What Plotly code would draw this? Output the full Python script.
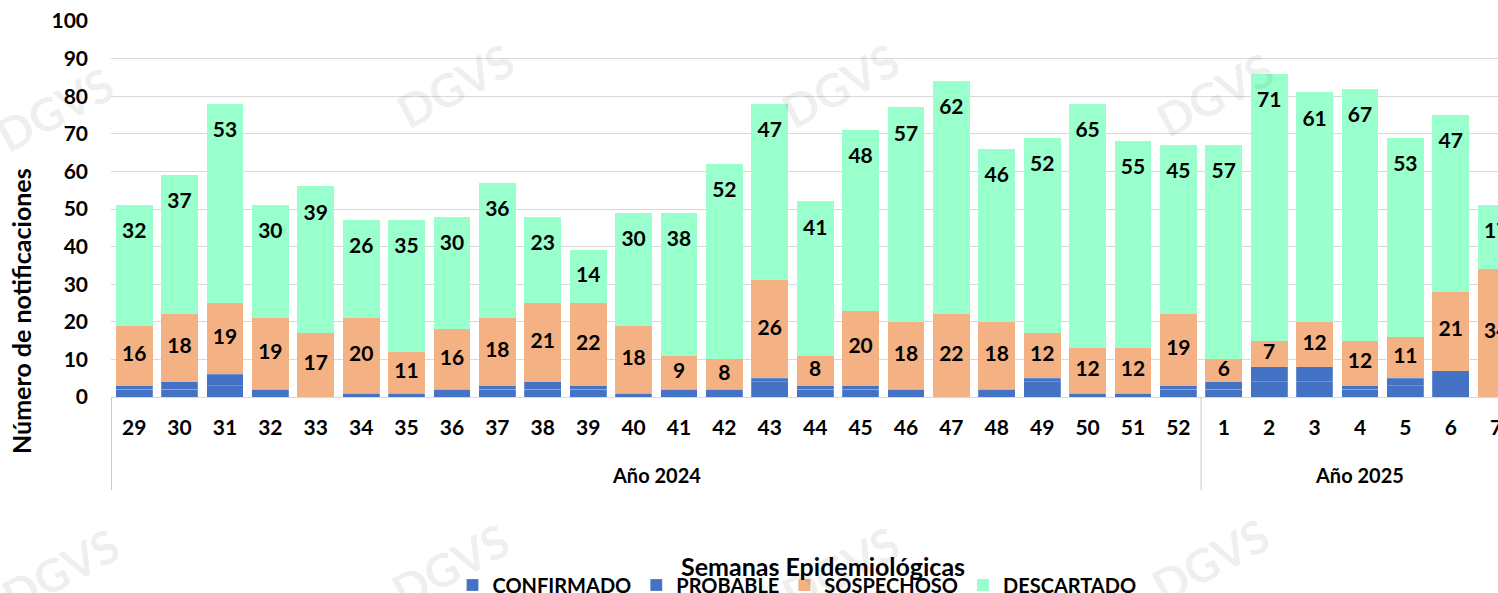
import plotly.graph_objects as go

# ---------------- data ----------------
years = ["Año 2024", "Año 2025"]
weeks_2024 = [str(w) for w in range(29, 53)]
weeks_2025 = [str(w) for w in range(1, 8)]
weeks = weeks_2024 + weeks_2025

confirmado = [2, 2, 3, 2, 0, 1, 1, 2, 2, 2, 2, 1, 2, 2, 4, 2, 2, 2, 0, 2, 4, 1, 1, 2,
              2, 4, 4, 2, 3, 7, 0]
probable = [1, 2, 3, 0, 0, 0, 0, 0, 1, 2, 1, 0, 0, 0, 1, 1, 1, 0, 0, 0, 1, 0, 0, 1,
            2, 4, 4, 1, 2, 0, 0]
sospechoso = [16, 18, 19, 19, 17, 20, 11, 16, 18, 21, 22, 18, 9, 8, 26, 8, 20, 18, 22, 18, 12, 12, 12, 19,
              6, 7, 12, 12, 11, 21, 34]
descartado = [32, 37, 53, 30, 39, 26, 35, 30, 36, 23, 14, 30, 38, 52, 47, 41, 48, 57, 62, 46, 52, 65, 55, 45,
              57, 71, 61, 67, 53, 47, 17]

# ---------------- styling ----------------
FONT = "Lato"
BLUE = "#4472C4"
ORANGE = "#F4B183"
MINT = "#99FFCC"

idx = list(range(len(weeks)))
groups = [(years[0], 0, len(weeks_2024) - 1), (years[1], len(weeks_2024), len(weeks) - 1)]

fig = go.Figure()
blue_line = dict(width=0.6, color="rgba(255,255,255,0.35)")
fig.add_trace(go.Bar(name="CONFIRMADO", x=idx, y=confirmado, marker=dict(color=BLUE, line=blue_line)))
fig.add_trace(go.Bar(name="PROBABLE", x=idx, y=probable, marker=dict(color=BLUE, line=blue_line)))
fig.add_trace(go.Bar(name="SOSPECHOSO", x=idx, y=sospechoso, marker=dict(color=ORANGE, line=dict(width=0))))
fig.add_trace(go.Bar(name="DESCARTADO", x=idx, y=descartado, marker=dict(color=MINT, line=dict(width=0))))

# data label positions derived from the stacked values
blue_tot = [c + p for c, p in zip(confirmado, probable)]
sosp_top = [b + s for b, s in zip(blue_tot, sospechoso)]
totals = [t + d for t, d in zip(sosp_top, descartado)]
sosp_y = [b + s / 2 for b, s in zip(blue_tot, sospechoso)]
desc_y = [max(t - 7.4, (st + t) / 2) for st, t in zip(sosp_top, totals)]

lab_font = dict(family=FONT, size=21, color="black", weight="bold")
fig.add_trace(go.Scatter(x=idx, y=sosp_y, mode="text", text=[str(v) for v in sospechoso],
                         textfont=lab_font, showlegend=False, hoverinfo="skip"))
fig.add_trace(go.Scatter(x=idx, y=desc_y, mode="text", text=[str(v) for v in descartado],
                         textfont=lab_font, showlegend=False, hoverinfo="skip"))

L, T, B = 111, 21, 196
W, H = 1498, 593
pw, ph = W - L, H - T - B

def px_x(p):
    return (p - L) / pw

def px_y(p):
    return (H - B - p) / ph

bold = lambda s: dict(family=FONT, size=s, color="black", weight="bold")

annotations = [
    dict(text="Número de notificaciones", x=px_x(21), y=px_y(311), xref="paper", yref="paper",
         textangle=-90, showarrow=False, xanchor="center", yanchor="middle", font=bold(25)),
    dict(text="Semanas Epidemiológicas", x=px_x(823), y=px_y(566), xref="paper", yref="paper",
         showarrow=False, xanchor="center", yanchor="middle", font=bold(25)),
]
shapes = []
for name, i0, i1 in groups:
    annotations.append(dict(text=name, x=(i0 + i1) / 2, y=px_y(475), xref="x", yref="paper",
                            showarrow=False, xanchor="center", yanchor="middle", font=bold(20)))
    shapes.append(dict(type="line", xref="x", yref="paper", x0=i0 - 0.5, x1=i0 - 0.5,
                       y0=0, y1=px_y(490), line=dict(color="#c8c8c8", width=1)))

# faint watermark
for (wx, wy) in [(55, 110), (455, 85), (840, 85), (1215, 95), (60, 570), (450, 565), (840, 568), (1210, 560)]:
    annotations.append(dict(text="DGVS", x=px_x(wx), y=px_y(wy), xref="paper", yref="paper",
                            showarrow=False, textangle=-28, xanchor="center", yanchor="middle",
                            font=dict(family=FONT, size=46, color="rgba(0,0,0,0.07)", weight="bold")))

fig.update_layout(
    width=W, height=H,
    margin=dict(l=L, r=0, t=T, b=B, autoexpand=False),
    barmode="stack", bargap=0.19,
    plot_bgcolor="white", paper_bgcolor="white",
    font=dict(family=FONT, color="black"),
    showlegend=True,
    legend=dict(orientation="h", x=px_x(797), y=px_y(585), xanchor="center", yanchor="middle",
                font=bold(20), traceorder="normal", itemwidth=30, bgcolor="rgba(0,0,0,0)"),
    annotations=annotations,
    shapes=shapes,
)
fig.update_xaxes(range=[-0.51, 30.04], showline=True, linecolor="#d9d9d9", automargin=False,
                 linewidth=1, showgrid=False, ticks="", zeroline=False,
                 tickmode="array", tickvals=idx, ticktext=weeks, ticklabelstandoff=12,
                 ticklabeloverflow="allow", tickfont=bold(21))
fig.update_yaxes(range=[0, 100], dtick=10, showgrid=True, gridcolor="#d9d9d9", gridwidth=1.2,
                 zeroline=False, showline=False, ticks="", ticklabelstandoff=22, automargin=False,
                 tickfont=bold(21))

fig.write_html("out.html", config={"displayModeBar": False},
               post_script="document.body.style.margin='0';document.body.style.overflow='hidden';")
